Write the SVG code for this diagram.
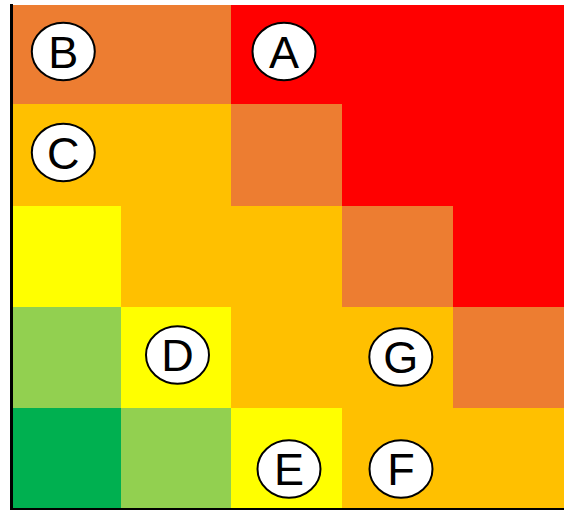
<svg xmlns="http://www.w3.org/2000/svg" width="564" height="510" viewBox="0 0 564 510">
<style>
.o{fill:#ED7D31}.r{fill:#FF0000}.g{fill:#FFC000}.y{fill:#FFFF00}.lg{fill:#92D050}.dg{fill:#00B050}
.node ellipse{fill:#FFFFFF;stroke:#000000;stroke-width:2}
.node text{font-family:"Liberation Sans",Arial,sans-serif;font-size:45px;fill:#000000;text-anchor:middle}
</style>
<rect width="564" height="510" fill="#FFFFFF"/>
<g id="grid">
<rect class="o" x="11" y="5" width="110" height="99"/>
<rect class="o" x="121" y="5" width="110" height="99"/>
<rect class="r" x="231" y="5" width="111" height="99"/>
<rect class="r" x="342" y="5" width="111" height="99"/>
<rect class="r" x="453" y="5" width="111" height="99"/>
<rect class="g" x="11" y="104" width="110" height="102"/>
<rect class="g" x="121" y="104" width="110" height="102"/>
<rect class="o" x="231" y="104" width="111" height="102"/>
<rect class="r" x="342" y="104" width="111" height="102"/>
<rect class="r" x="453" y="104" width="111" height="102"/>
<rect class="y" x="11" y="206" width="110" height="101"/>
<rect class="g" x="121" y="206" width="110" height="101"/>
<rect class="g" x="231" y="206" width="111" height="101"/>
<rect class="o" x="342" y="206" width="111" height="101"/>
<rect class="r" x="453" y="206" width="111" height="101"/>
<rect class="lg" x="11" y="307" width="110" height="101"/>
<rect class="y" x="121" y="307" width="110" height="101"/>
<rect class="g" x="231" y="307" width="111" height="101"/>
<rect class="g" x="342" y="307" width="111" height="101"/>
<rect class="o" x="453" y="307" width="111" height="101"/>
<rect class="dg" x="11" y="408" width="110" height="100"/>
<rect class="lg" x="121" y="408" width="110" height="100"/>
<rect class="y" x="231" y="408" width="111" height="100"/>
<rect class="g" x="342" y="408" width="111" height="100"/>
<rect class="g" x="453" y="408" width="111" height="100"/>
</g>
<g id="axes">
<rect x="10" y="4" width="3" height="506" fill="#000000"/>
<rect x="10" y="508" width="554" height="2" fill="#000000"/>
</g>
<g id="connectors"></g>
<g id="node-A" class="node"><ellipse cx="284" cy="51.5" rx="31.5" ry="28.7"/><text x="284" y="67.5">A</text></g>
<g id="node-B" class="node"><ellipse cx="63.3" cy="51.5" rx="31.5" ry="28.7"/><text x="63.3" y="67.5">B</text></g>
<g id="node-C" class="node"><ellipse cx="63.3" cy="152.5" rx="31.5" ry="28.7"/><text x="63.3" y="168.5">C</text></g>
<g id="node-D" class="node"><ellipse cx="177.5" cy="355" rx="31.5" ry="28.7"/><text x="177.5" y="371">D</text></g>
<g id="node-G" class="node"><ellipse cx="400.8" cy="357" rx="31.5" ry="28.7"/><text x="400.8" y="373">G</text></g>
<g id="node-E" class="node"><ellipse cx="289" cy="469" rx="31.5" ry="28.7"/><text x="289" y="485">E</text></g>
<g id="node-F" class="node"><ellipse cx="401" cy="469" rx="31.5" ry="28.7"/><text x="401" y="485">F</text></g>
</svg>
